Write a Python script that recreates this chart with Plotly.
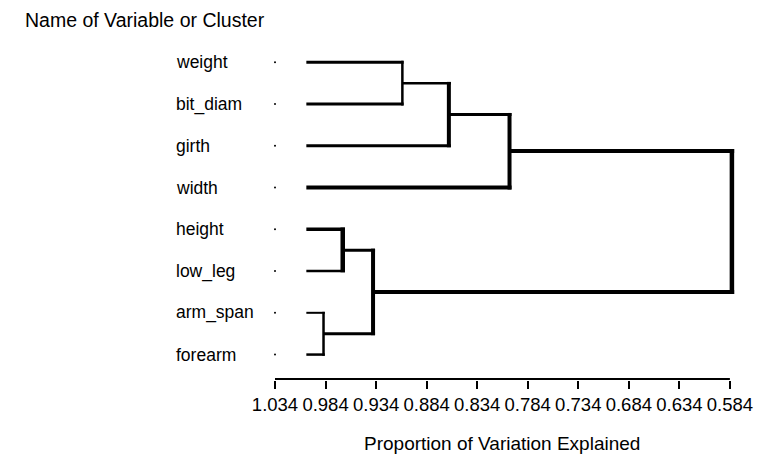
import plotly.graph_objects as go

# ---------------- data ----------------
leaves = ["weight", "bit_diam", "girth", "width", "height", "low_leg", "arm_span", "forearm"]
leaf_level = 1.003

merge_names = ["C1", "C2", "C3", "C4", "C5", "C6", "C7"]
merge_left = ["weight", "C1", "C2", "height", "arm_span", "C4", "C3"]
merge_right = ["bit_diam", "girth", "width", "low_leg", "forearm", "C5", "C6"]
merge_level = [0.908, 0.862, 0.802, 0.967, 0.986, 0.937, 0.582]

tick_labels = ["1.034", "0.984", "0.934", "0.884", "0.834", "0.784",
               "0.734", "0.684", "0.634", "0.584"]
tick_values = [float(t) for t in tick_labels]

# ---------------- styles / layout ----------------
hwidth = {"weight": 3, "bit_diam": 3, "girth": 3, "width": 4, "height": 3.5,
          "low_leg": 2.5, "arm_span": 2, "forearm": 2.5,
          "C1": 2.5, "C2": 3, "C3": 4, "C4": 3, "C5": 3, "C6": 4}
vwidth = {"C1": 2.5, "C2": 4, "C3": 4, "C4": 4.5, "C5": 2.5, "C6": 4, "C7": 4.5}

OFF = 8                      # default page body margin
W, H = 772 - 2 * OFF, 464 - 2 * OFF
PX_X = 455 / 0.45            # pixels per unit on x
X_END = 0.574                # plot area extends a little past the last tick
ML = 275 - OFF
plot_w = (tick_values[0] - X_END) * PX_X
MR = W - ML - plot_w
MT = 40 - OFF
MB = H - (380.5 - OFF)
yr = [7.609, -0.533]
plot_h = H - MT - MB
px_y = plot_h / abs(yr[0] - yr[1])
FONT = "Liberation Sans, Arial, sans-serif"

# ---------------- geometry from data ----------------
xpos, ypos = {}, {}
for i, name in enumerate(leaves):
    xpos[name] = leaf_level
    ypos[name] = i
for name, l, r, lev in zip(merge_names, merge_left, merge_right, merge_level):
    xpos[name] = lev
    ypos[name] = (ypos[l] + ypos[r]) / 2

fig = go.Figure()

def seg(xs, ys, w):
    fig.add_trace(go.Scatter(x=xs, y=ys, mode="lines",
                             line=dict(color="black", width=w),
                             hoverinfo="skip", showlegend=False, cliponaxis=False))

for name, l, r, lev in zip(merge_names, merge_left, merge_right, merge_level):
    vw = vwidth[name]
    dx = (vw / 2) / PX_X
    for c in (l, r):
        seg([xpos[c], lev - dx], [ypos[c], ypos[c]], hwidth[c])
    dyl = (hwidth[l] / 2) / px_y
    dyr = (hwidth[r] / 2) / px_y
    seg([lev, lev], [ypos[l] - dyl, ypos[r] + dyr], vw)

# axis baseline between first and last tick
y_base = yr[0] - 1.0 / px_y
seg([tick_values[0], tick_values[-1]], [y_base, y_base], 2)

# small dots at the leaves
fig.add_trace(go.Scatter(x=[tick_values[0]] * len(leaves), y=list(range(len(leaves))),
                         mode="markers", marker=dict(color="black", size=2),
                         hoverinfo="skip", showlegend=False, cliponaxis=False))

# leaf labels
for i, name in enumerate(leaves):
    fig.add_annotation(text=name, xref="paper", yref="y", x=(174 - OFF - ML) / plot_w, y=i,
                       xanchor="left", yanchor="middle", showarrow=False,
                       font=dict(family=FONT, size=17.5, color="black"))

fig.add_annotation(text="Name of Variable or Cluster", xref="paper", yref="paper",
                   x=(23 - OFF - ML) / plot_w, y=(H - MB - (20 - OFF)) / plot_h,
                   xanchor="left", yanchor="middle", showarrow=False,
                   font=dict(family=FONT, size=19.5, color="black"))

fig.add_annotation(text="Proportion of Variation Explained", xref="paper", yref="paper",
                   x=(502 - OFF - ML) / plot_w, y=-MB / plot_h,
                   xanchor="center", yanchor="bottom", showarrow=False, borderpad=0,
                   font=dict(family=FONT, size=19, color="black"))

fig.update_layout(
    width=W, height=H,
    margin=dict(l=ML, r=MR, t=MT, b=MB, pad=0),
    paper_bgcolor="white", plot_bgcolor="white",
    xaxis=dict(range=[tick_values[0], X_END], tickvals=tick_values,
               ticktext=tick_labels, showline=False,
               ticks="outside", ticklen=8, tickwidth=2, tickcolor="black",
               tickfont=dict(family=FONT, size=18.5, color="black"),
               showgrid=False, zeroline=False),
    yaxis=dict(range=yr, visible=False, showgrid=False, zeroline=False),
)

fig.write_html("out.html")
